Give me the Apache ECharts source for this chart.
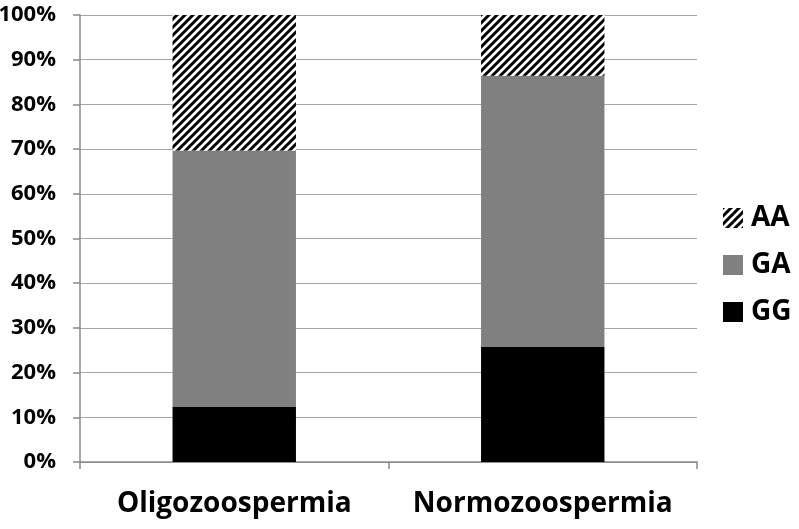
<!DOCTYPE html>
<html>
<head>
<meta charset="utf-8">
<script src="https://cdn.jsdelivr.net/npm/echarts@6/dist/echarts.min.js"></script>
<style>
  html, body { margin: 0; padding: 0; background: #fff; }
  #chart { width: 799px; height: 529px; }
</style>
</head>
<body>
<div id="chart"></div>
<script>
// genotype shares (%)
var categories = ['Oligozoospermia', 'Normozoospermia']
var ggValues = [12.3, 25.7]
var gaValues = [57.4, 60.7]
var aaValues = [30.3, 13.6]

// diagonal hatch used for AA
function makeHatch() {
  var size = 8
  var c = document.createElement('canvas')
  c.width = size
  c.height = size
  var ctx = c.getContext('2d')
  ctx.fillStyle = '#fff'
  ctx.fillRect(0, 0, size, size)
  ctx.strokeStyle = '#000'
  ctx.lineWidth = 3
  ctx.beginPath()
  ctx.moveTo(-1, size + 1); ctx.lineTo(size + 1, -1)
  ctx.moveTo(-2, 2); ctx.lineTo(2, -2)
  ctx.moveTo(size - 2, size + 2); ctx.lineTo(size + 2, size - 2)
  ctx.stroke()
  return c
}

var chart = echarts.init(document.getElementById('chart'))
var font = '"Open Sans", "DejaVu Sans", sans-serif'
var hatch = { image: makeHatch(), repeat: 'repeat' }

var series = [
  { name: 'GG', data: ggValues, color: '#000000' },
  { name: 'GA', data: gaValues, color: '#808080' },
  { name: 'AA', data: aaValues, color: hatch }
].map(function (s) {
  return {
    name: s.name,
    type: 'bar',
    stack: 'total',
    barWidth: '40%',
    data: s.data,
    itemStyle: { color: s.color },
    emphasis: { disabled: true }
  }
})

chart.setOption({
  backgroundColor: '#fff',
  animation: false,
  grid: { left: 80, right: 102, top: 15, bottom: 67, outerBoundsMode: 'none', containLabel: false },
  legend: {
    data: ['AA', 'GA', 'GG'],
    orient: 'vertical',
    left: 718,
    top: 199,
    itemWidth: 20,
    itemHeight: 20,
    itemGap: 19,
    icon: 'rect',
    textStyle: { fontFamily: font, fontSize: 28, fontWeight: 'bold', color: '#000', padding: [0, 0, 0, 3] }
  },
  xAxis: {
    type: 'category',
    data: categories,
    axisLine: { lineStyle: { color: '#898989', width: 1.5 } },
    axisTick: { show: true, length: 7, lineStyle: { color: '#898989', width: 1.5 } },
    axisLabel: {
      interval: 0, hideOverlap: false,
      fontFamily: font, fontSize: 28, fontWeight: 'bold', color: '#000', margin: 28
    }
  },
  yAxis: {
    type: 'value',
    min: 0,
    max: 100,
    interval: 10,
    axisLine: { show: true, lineStyle: { color: '#898989', width: 1.5 } },
    axisTick: { show: true, length: 7, lineStyle: { color: '#898989', width: 1.5 } },
    splitLine: { lineStyle: { color: '#a6a6a6', width: 1.2 } },
    axisLabel: {
      fontFamily: font, fontSize: 22, fontWeight: 'bold', color: '#000', margin: 24,
      formatter: '{value}%'
    }
  },
  series: series
})
</script>
</body>
</html>
